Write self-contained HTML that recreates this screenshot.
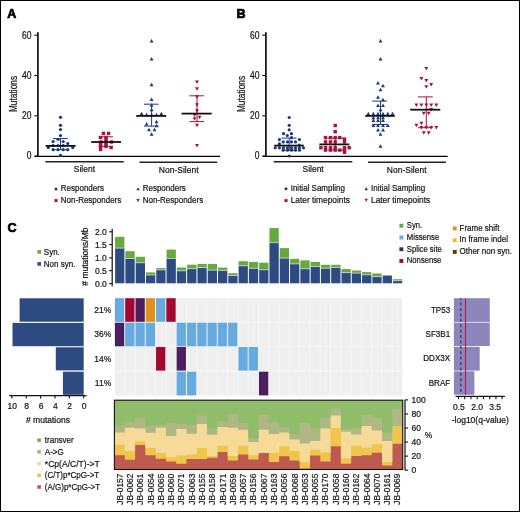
<!DOCTYPE html><html><head><meta charset="utf-8"><style>html,body{margin:0;padding:0;background:#fff;}svg{display:block;will-change:transform;}text{font-family:"Liberation Sans",sans-serif;stroke:#111;stroke-width:.2px;}</style></head><body>
<svg width="520" height="512" viewBox="0 0 520 512">
<rect x="0" y="0" width="520" height="512" fill="#fff"/>
<text x="7.2" y="17.8" font-size="12.50" text-anchor="start" font-weight="bold" fill="#000" style="stroke:#000;stroke-width:.7px">A</text>
<line x1="37.9" y1="32.2" x2="37.9" y2="156.9" stroke="#000" stroke-width="1.6" />
<line x1="34.6" y1="156.3" x2="220" y2="156.3" stroke="#000" stroke-width="1.3" />
<line x1="34.3" y1="156.1" x2="37.9" y2="156.1" stroke="#111111" stroke-width="1.1" />
<text x="31.4" y="159.4" font-size="10.03" text-anchor="end" font-weight="normal" fill="#111111"  textLength="4.73" lengthAdjust="spacingAndGlyphs">0</text>
<line x1="34.3" y1="115.79999999999998" x2="37.9" y2="115.79999999999998" stroke="#111111" stroke-width="1.1" />
<text x="31.4" y="119.09999999999998" font-size="10.03" text-anchor="end" font-weight="normal" fill="#111111"  textLength="9.45" lengthAdjust="spacingAndGlyphs">20</text>
<line x1="34.3" y1="75.49999999999999" x2="37.9" y2="75.49999999999999" stroke="#111111" stroke-width="1.1" />
<text x="31.4" y="78.79999999999998" font-size="10.03" text-anchor="end" font-weight="normal" fill="#111111"  textLength="9.45" lengthAdjust="spacingAndGlyphs">40</text>
<line x1="34.3" y1="35.19999999999999" x2="37.9" y2="35.19999999999999" stroke="#111111" stroke-width="1.1" />
<text x="31.4" y="38.499999999999986" font-size="10.03" text-anchor="end" font-weight="normal" fill="#111111"  textLength="9.45" lengthAdjust="spacingAndGlyphs">60</text>
<text transform="translate(17.0,94) rotate(-90)" font-size="10.6" text-anchor="middle" fill="#111111" textLength="36.2" lengthAdjust="spacingAndGlyphs">Mutations</text>
<text x="236.4" y="17.8" font-size="12.50" text-anchor="start" font-weight="bold" fill="#000" style="stroke:#000;stroke-width:.7px">B</text>
<line x1="265.9" y1="32.2" x2="265.9" y2="156.9" stroke="#000" stroke-width="1.6" />
<line x1="262.59999999999997" y1="156.3" x2="447.7" y2="156.3" stroke="#000" stroke-width="1.3" />
<line x1="262.29999999999995" y1="156.1" x2="265.9" y2="156.1" stroke="#111111" stroke-width="1.1" />
<text x="259.4" y="159.4" font-size="10.03" text-anchor="end" font-weight="normal" fill="#111111"  textLength="4.73" lengthAdjust="spacingAndGlyphs">0</text>
<line x1="262.29999999999995" y1="115.79999999999998" x2="265.9" y2="115.79999999999998" stroke="#111111" stroke-width="1.1" />
<text x="259.4" y="119.09999999999998" font-size="10.03" text-anchor="end" font-weight="normal" fill="#111111"  textLength="9.45" lengthAdjust="spacingAndGlyphs">20</text>
<line x1="262.29999999999995" y1="75.49999999999999" x2="265.9" y2="75.49999999999999" stroke="#111111" stroke-width="1.1" />
<text x="259.4" y="78.79999999999998" font-size="10.03" text-anchor="end" font-weight="normal" fill="#111111"  textLength="9.45" lengthAdjust="spacingAndGlyphs">40</text>
<line x1="262.29999999999995" y1="35.19999999999999" x2="265.9" y2="35.19999999999999" stroke="#111111" stroke-width="1.1" />
<text x="259.4" y="38.499999999999986" font-size="10.03" text-anchor="end" font-weight="normal" fill="#111111"  textLength="9.45" lengthAdjust="spacingAndGlyphs">60</text>
<text transform="translate(244.9,94) rotate(-90)" font-size="10.6" text-anchor="middle" fill="#111111" textLength="36.2" lengthAdjust="spacingAndGlyphs">Mutations</text>
<line x1="45.4" y1="161.7" x2="123.8" y2="161.7" stroke="#222" stroke-width="1.5" />
<line x1="139.5" y1="162.2" x2="217.2" y2="162.2" stroke="#222" stroke-width="1.5" />
<text x="84.4" y="172.3" font-size="9.18" text-anchor="middle" font-weight="normal" fill="#111111"  textLength="21.26" lengthAdjust="spacingAndGlyphs">Silent</text>
<text x="178.7" y="172.8" font-size="9.18" text-anchor="middle" font-weight="normal" fill="#111111"  textLength="39.69" lengthAdjust="spacingAndGlyphs">Non-Silent</text>
<line x1="273.8" y1="161.7" x2="352.3" y2="161.7" stroke="#222" stroke-width="1.5" />
<line x1="368" y1="162.2" x2="445.9" y2="162.2" stroke="#222" stroke-width="1.5" />
<text x="313.1" y="172.3" font-size="9.18" text-anchor="middle" font-weight="normal" fill="#111111"  textLength="21.26" lengthAdjust="spacingAndGlyphs">Silent</text>
<text x="406.7" y="172.8" font-size="9.18" text-anchor="middle" font-weight="normal" fill="#111111"  textLength="39.69" lengthAdjust="spacingAndGlyphs">Non-Silent</text>
<line x1="53" y1="138.6" x2="67.8" y2="138.6" stroke="#1a397b" stroke-width="1.0" />
<line x1="53" y1="149.7" x2="67.8" y2="149.7" stroke="#1a397b" stroke-width="1.0" />
<line x1="60.5" y1="138.6" x2="60.5" y2="149.7" stroke="#1a397b" stroke-width="1.0" />
<circle cx="60.5" cy="117.3" r="1.6" fill="#1a397b"/>
<circle cx="60.5" cy="125.3" r="1.6" fill="#1a397b"/>
<circle cx="60.5" cy="129.5" r="1.6" fill="#1a397b"/>
<circle cx="60.5" cy="135.6" r="1.6" fill="#1a397b"/>
<circle cx="58" cy="139.3" r="1.6" fill="#1a397b"/>
<circle cx="53.1" cy="141.5" r="1.6" fill="#1a397b"/>
<circle cx="63.2" cy="141.5" r="1.6" fill="#1a397b"/>
<circle cx="67.8" cy="143.5" r="1.6" fill="#1a397b"/>
<circle cx="53.1" cy="145.6" r="1.6" fill="#1a397b"/>
<circle cx="58" cy="145.6" r="1.6" fill="#1a397b"/>
<circle cx="63.2" cy="145.6" r="1.6" fill="#1a397b"/>
<circle cx="48.3" cy="147.6" r="1.6" fill="#1a397b"/>
<circle cx="72.7" cy="147.6" r="1.6" fill="#1a397b"/>
<circle cx="53.1" cy="149.7" r="1.6" fill="#1a397b"/>
<circle cx="58" cy="149.7" r="1.6" fill="#1a397b"/>
<circle cx="63.2" cy="149.7" r="1.6" fill="#1a397b"/>
<circle cx="67.8" cy="149.7" r="1.6" fill="#1a397b"/>
<circle cx="60.5" cy="155.4" r="1.6" fill="#1a397b"/>
<line x1="45.6" y1="145.9" x2="75.6" y2="145.9" stroke="#111111" stroke-width="1.8" />
<line x1="98.7" y1="136.8" x2="113.1" y2="136.8" stroke="#a8123a" stroke-width="1.0" />
<line x1="98.7" y1="146.4" x2="113.1" y2="146.4" stroke="#a8123a" stroke-width="1.0" />
<line x1="106" y1="136.8" x2="106" y2="146.4" stroke="#a8123a" stroke-width="1.0" />
<rect x="101.70" y="131.70" width="3.4" height="3.4" fill="#a8123a"/>
<rect x="106.80" y="131.70" width="3.4" height="3.4" fill="#a8123a"/>
<rect x="98.80" y="135.80" width="3.4" height="3.4" fill="#a8123a"/>
<rect x="104.30" y="135.80" width="3.4" height="3.4" fill="#a8123a"/>
<rect x="104.30" y="138.10" width="3.4" height="3.4" fill="#a8123a"/>
<rect x="99.30" y="140.30" width="3.4" height="3.4" fill="#a8123a"/>
<rect x="104.30" y="140.30" width="3.4" height="3.4" fill="#a8123a"/>
<rect x="109.80" y="140.30" width="3.4" height="3.4" fill="#a8123a"/>
<rect x="98.90" y="143.10" width="3.4" height="3.4" fill="#a8123a"/>
<rect x="104.30" y="143.10" width="3.4" height="3.4" fill="#a8123a"/>
<rect x="98.90" y="144.70" width="3.4" height="3.4" fill="#a8123a"/>
<rect x="104.30" y="144.70" width="3.4" height="3.4" fill="#a8123a"/>
<rect x="109.40" y="145.80" width="3.4" height="3.4" fill="#a8123a"/>
<rect x="98.90" y="147.80" width="3.4" height="3.4" fill="#a8123a"/>
<line x1="91.2" y1="142" x2="121" y2="142" stroke="#111111" stroke-width="1.8" />
<line x1="144" y1="104.2" x2="158.7" y2="104.2" stroke="#1a397b" stroke-width="1.0" />
<line x1="144" y1="126.1" x2="158.7" y2="126.1" stroke="#1a397b" stroke-width="1.0" />
<line x1="151.6" y1="104.2" x2="151.6" y2="126.1" stroke="#1a397b" stroke-width="1.0" />
<path d="M149.65 42.46L153.55 42.46L151.60 38.95Z" fill="#1a397b"/>
<path d="M149.65 60.46L153.55 60.46L151.60 56.95Z" fill="#1a397b"/>
<path d="M149.65 86.35L153.55 86.35L151.60 82.84Z" fill="#1a397b"/>
<path d="M149.65 101.05L153.55 101.05L151.60 97.55Z" fill="#1a397b"/>
<path d="M149.65 106.85L153.55 106.85L151.60 103.34Z" fill="#1a397b"/>
<path d="M149.65 111.25L153.55 111.25L151.60 107.75Z" fill="#1a397b"/>
<path d="M139.65 115.16L143.55 115.16L141.60 111.65Z" fill="#1a397b"/>
<path d="M159.45 115.16L163.35 115.16L161.40 111.65Z" fill="#1a397b"/>
<path d="M144.65 116.16L148.55 116.16L146.60 112.65Z" fill="#1a397b"/>
<path d="M149.65 116.16L153.55 116.16L151.60 112.65Z" fill="#1a397b"/>
<path d="M154.55 116.16L158.45 116.16L156.50 112.65Z" fill="#1a397b"/>
<path d="M154.55 123.16L158.45 123.16L156.50 119.65Z" fill="#1a397b"/>
<path d="M144.65 125.45L148.55 125.45L146.60 121.95Z" fill="#1a397b"/>
<path d="M154.55 127.35L158.45 127.35L156.50 123.84Z" fill="#1a397b"/>
<path d="M147.05 131.25L150.95 131.25L149.00 127.75Z" fill="#1a397b"/>
<path d="M152.55 131.25L156.45 131.25L154.50 127.75Z" fill="#1a397b"/>
<path d="M149.65 135.75L153.55 135.75L151.60 132.25Z" fill="#1a397b"/>
<line x1="136.2" y1="115.9" x2="166.2" y2="115.9" stroke="#111111" stroke-width="1.8" />
<line x1="189.4" y1="95.8" x2="204" y2="95.8" stroke="#a8123a" stroke-width="1.0" />
<line x1="189.4" y1="121.6" x2="204" y2="121.6" stroke="#a8123a" stroke-width="1.0" />
<line x1="197" y1="95.8" x2="197" y2="121.6" stroke="#a8123a" stroke-width="1.0" />
<path d="M195.05 80.55L198.95 80.55L197.00 84.05Z" fill="#a8123a"/>
<path d="M195.05 87.15L198.95 87.15L197.00 90.66Z" fill="#a8123a"/>
<path d="M195.05 95.25L198.95 95.25L197.00 98.75Z" fill="#a8123a"/>
<path d="M195.05 103.25L198.95 103.25L197.00 106.75Z" fill="#a8123a"/>
<path d="M195.05 109.25L198.95 109.25L197.00 112.75Z" fill="#a8123a"/>
<path d="M192.65 113.55L196.55 113.55L194.60 117.05Z" fill="#a8123a"/>
<path d="M197.55 115.75L201.45 115.75L199.50 119.25Z" fill="#a8123a"/>
<path d="M192.65 117.25L196.55 117.25L194.60 120.75Z" fill="#a8123a"/>
<path d="M195.05 123.84L198.95 123.84L197.00 127.35Z" fill="#a8123a"/>
<path d="M195.05 144.05L198.95 144.05L197.00 147.56Z" fill="#a8123a"/>
<line x1="181.6" y1="113.6" x2="211.7" y2="113.6" stroke="#111111" stroke-width="1.8" />
<line x1="281.5" y1="138.1" x2="296.5" y2="138.1" stroke="#1a397b" stroke-width="1.0" />
<line x1="281.5" y1="150.2" x2="296.5" y2="150.2" stroke="#1a397b" stroke-width="1.0" />
<line x1="289.2" y1="138.1" x2="289.2" y2="150.2" stroke="#1a397b" stroke-width="1.0" />
<circle cx="289.2" cy="117.5" r="1.6" fill="#1a397b"/>
<circle cx="289.2" cy="125.3" r="1.6" fill="#1a397b"/>
<circle cx="289.2" cy="129.8" r="1.6" fill="#1a397b"/>
<circle cx="283.5" cy="133.7" r="1.6" fill="#1a397b"/>
<circle cx="291.4" cy="133.7" r="1.6" fill="#1a397b"/>
<circle cx="287.3" cy="135.5" r="1.6" fill="#1a397b"/>
<circle cx="291.5" cy="137.7" r="1.6" fill="#1a397b"/>
<circle cx="279.4" cy="139.6" r="1.6" fill="#1a397b"/>
<circle cx="299.4" cy="139.6" r="1.6" fill="#1a397b"/>
<circle cx="283.2" cy="141.9" r="1.6" fill="#1a397b"/>
<circle cx="287.5" cy="141.9" r="1.6" fill="#1a397b"/>
<circle cx="291.5" cy="141.9" r="1.6" fill="#1a397b"/>
<circle cx="295.5" cy="141.9" r="1.6" fill="#1a397b"/>
<circle cx="279.4" cy="143.8" r="1.6" fill="#1a397b"/>
<circle cx="299.3" cy="145" r="1.6" fill="#1a397b"/>
<circle cx="275.2" cy="147.8" r="1.6" fill="#1a397b"/>
<circle cx="279.4" cy="147.8" r="1.6" fill="#1a397b"/>
<circle cx="283.5" cy="147.8" r="1.6" fill="#1a397b"/>
<circle cx="287.5" cy="147.8" r="1.6" fill="#1a397b"/>
<circle cx="291.5" cy="147.8" r="1.6" fill="#1a397b"/>
<circle cx="295.5" cy="147.8" r="1.6" fill="#1a397b"/>
<circle cx="299.4" cy="147.8" r="1.6" fill="#1a397b"/>
<circle cx="303.5" cy="147.8" r="1.6" fill="#1a397b"/>
<circle cx="283.2" cy="150.2" r="1.6" fill="#1a397b"/>
<circle cx="287.5" cy="150.2" r="1.6" fill="#1a397b"/>
<circle cx="291.5" cy="150.2" r="1.6" fill="#1a397b"/>
<circle cx="295.5" cy="150.2" r="1.6" fill="#1a397b"/>
<circle cx="299.4" cy="150.2" r="1.6" fill="#1a397b"/>
<circle cx="289.2" cy="156" r="1.6" fill="#1a397b"/>
<line x1="274.2" y1="145.6" x2="303.8" y2="145.6" stroke="#111111" stroke-width="1.8" />
<line x1="327.5" y1="138.2" x2="343" y2="138.2" stroke="#a8123a" stroke-width="1.0" />
<line x1="327.5" y1="150.1" x2="343" y2="150.1" stroke="#a8123a" stroke-width="1.0" />
<line x1="335.2" y1="138.2" x2="335.2" y2="150.1" stroke="#a8123a" stroke-width="1.0" />
<rect x="333.50" y="123.80" width="3.4" height="3.4" fill="#a8123a"/>
<rect x="333.50" y="130.00" width="3.4" height="3.4" fill="#a8123a"/>
<rect x="323.80" y="135.90" width="3.4" height="3.4" fill="#a8123a"/>
<rect x="328.80" y="135.90" width="3.4" height="3.4" fill="#a8123a"/>
<rect x="333.50" y="135.90" width="3.4" height="3.4" fill="#a8123a"/>
<rect x="338.10" y="135.90" width="3.4" height="3.4" fill="#a8123a"/>
<rect x="342.80" y="137.40" width="3.4" height="3.4" fill="#a8123a"/>
<rect x="323.80" y="140.20" width="3.4" height="3.4" fill="#a8123a"/>
<rect x="328.80" y="140.20" width="3.4" height="3.4" fill="#a8123a"/>
<rect x="333.50" y="140.20" width="3.4" height="3.4" fill="#a8123a"/>
<rect x="342.80" y="140.20" width="3.4" height="3.4" fill="#a8123a"/>
<rect x="319.20" y="146.00" width="3.4" height="3.4" fill="#a8123a"/>
<rect x="323.80" y="146.00" width="3.4" height="3.4" fill="#a8123a"/>
<rect x="328.80" y="146.00" width="3.4" height="3.4" fill="#a8123a"/>
<rect x="333.50" y="146.00" width="3.4" height="3.4" fill="#a8123a"/>
<rect x="342.80" y="146.00" width="3.4" height="3.4" fill="#a8123a"/>
<rect x="347.50" y="146.00" width="3.4" height="3.4" fill="#a8123a"/>
<rect x="323.80" y="148.40" width="3.4" height="3.4" fill="#a8123a"/>
<rect x="328.80" y="148.40" width="3.4" height="3.4" fill="#a8123a"/>
<rect x="333.50" y="148.40" width="3.4" height="3.4" fill="#a8123a"/>
<rect x="338.10" y="148.40" width="3.4" height="3.4" fill="#a8123a"/>
<rect x="342.80" y="148.40" width="3.4" height="3.4" fill="#a8123a"/>
<rect x="342.80" y="150.60" width="3.4" height="3.4" fill="#a8123a"/>
<line x1="319.3" y1="144.4" x2="349.4" y2="144.4" stroke="#111111" stroke-width="1.8" />
<line x1="372.2" y1="101.1" x2="387" y2="101.1" stroke="#1a397b" stroke-width="1.0" />
<line x1="372.2" y1="124.5" x2="387" y2="124.5" stroke="#1a397b" stroke-width="1.0" />
<line x1="380.5" y1="101.1" x2="380.5" y2="124.5" stroke="#1a397b" stroke-width="1.0" />
<path d="M378.55 42.55L382.45 42.55L380.50 39.04Z" fill="#1a397b"/>
<path d="M378.55 60.55L382.45 60.55L380.50 57.04Z" fill="#1a397b"/>
<path d="M376.05 84.55L379.95 84.55L378.00 81.05Z" fill="#1a397b"/>
<path d="M381.05 87.25L384.95 87.25L383.00 83.75Z" fill="#1a397b"/>
<path d="M378.55 91.16L382.45 91.16L380.50 87.65Z" fill="#1a397b"/>
<path d="M376.05 98.66L379.95 98.66L378.00 95.15Z" fill="#1a397b"/>
<path d="M381.05 101.25L384.95 101.25L383.00 97.75Z" fill="#1a397b"/>
<path d="M376.05 107.05L379.95 107.05L378.00 103.55Z" fill="#1a397b"/>
<path d="M381.05 107.05L384.95 107.05L383.00 103.55Z" fill="#1a397b"/>
<path d="M378.55 111.16L382.45 111.16L380.50 107.65Z" fill="#1a397b"/>
<path d="M366.35 115.25L370.25 115.25L368.30 111.75Z" fill="#1a397b"/>
<path d="M371.45 115.25L375.35 115.25L373.40 111.75Z" fill="#1a397b"/>
<path d="M376.05 115.25L379.95 115.25L378.00 111.75Z" fill="#1a397b"/>
<path d="M381.05 115.25L384.95 115.25L383.00 111.75Z" fill="#1a397b"/>
<path d="M385.85 115.25L389.75 115.25L387.80 111.75Z" fill="#1a397b"/>
<path d="M390.55 115.25L394.45 115.25L392.50 111.75Z" fill="#1a397b"/>
<path d="M371.45 119.25L375.35 119.25L373.40 115.75Z" fill="#1a397b"/>
<path d="M376.05 119.25L379.95 119.25L378.00 115.75Z" fill="#1a397b"/>
<path d="M381.05 119.25L384.95 119.25L383.00 115.75Z" fill="#1a397b"/>
<path d="M371.45 122.05L375.35 122.05L373.40 118.55Z" fill="#1a397b"/>
<path d="M376.05 122.05L379.95 122.05L378.00 118.55Z" fill="#1a397b"/>
<path d="M381.05 122.05L384.95 122.05L383.00 118.55Z" fill="#1a397b"/>
<path d="M371.45 127.05L375.35 127.05L373.40 123.55Z" fill="#1a397b"/>
<path d="M376.05 127.05L379.95 127.05L378.00 123.55Z" fill="#1a397b"/>
<path d="M381.05 127.05L384.95 127.05L383.00 123.55Z" fill="#1a397b"/>
<path d="M385.85 127.05L389.75 127.05L387.80 123.55Z" fill="#1a397b"/>
<path d="M376.05 131.45L379.95 131.45L378.00 127.94Z" fill="#1a397b"/>
<path d="M381.05 131.45L384.95 131.45L383.00 127.94Z" fill="#1a397b"/>
<path d="M378.55 135.66L382.45 135.66L380.50 132.15Z" fill="#1a397b"/>
<path d="M378.55 147.85L382.45 147.85L380.50 144.34Z" fill="#1a397b"/>
<line x1="365.2" y1="115.9" x2="394.8" y2="115.9" stroke="#111111" stroke-width="1.8" />
<line x1="418" y1="96.9" x2="432.8" y2="96.9" stroke="#a8123a" stroke-width="1.0" />
<line x1="418" y1="127.7" x2="432.8" y2="127.7" stroke="#a8123a" stroke-width="1.0" />
<line x1="426.3" y1="96.9" x2="426.3" y2="127.7" stroke="#a8123a" stroke-width="1.0" />
<path d="M424.35 67.05L428.25 67.05L426.30 70.55Z" fill="#a8123a"/>
<path d="M419.45 77.05L423.35 77.05L421.40 80.55Z" fill="#a8123a"/>
<path d="M424.35 79.05L428.25 79.05L426.30 82.55Z" fill="#a8123a"/>
<path d="M429.25 82.95L433.15 82.95L431.20 86.45Z" fill="#a8123a"/>
<path d="M424.35 85.25L428.25 85.25L426.30 88.75Z" fill="#a8123a"/>
<path d="M414.45 103.55L418.35 103.55L416.40 107.05Z" fill="#a8123a"/>
<path d="M419.45 103.55L423.35 103.55L421.40 107.05Z" fill="#a8123a"/>
<path d="M424.35 103.55L428.25 103.55L426.30 107.05Z" fill="#a8123a"/>
<path d="M429.25 103.55L433.15 103.55L431.20 107.05Z" fill="#a8123a"/>
<path d="M434.35 103.55L438.25 103.55L436.30 107.05Z" fill="#a8123a"/>
<path d="M429.25 107.95L433.15 107.95L431.20 111.45Z" fill="#a8123a"/>
<path d="M421.85 111.84L425.75 111.84L423.80 115.35Z" fill="#a8123a"/>
<path d="M426.75 111.84L430.65 111.84L428.70 115.35Z" fill="#a8123a"/>
<path d="M419.45 121.65L423.35 121.65L421.40 125.16Z" fill="#a8123a"/>
<path d="M414.45 123.84L418.35 123.84L416.40 127.35Z" fill="#a8123a"/>
<path d="M419.45 125.95L423.35 125.95L421.40 129.46Z" fill="#a8123a"/>
<path d="M424.35 125.95L428.25 125.95L426.30 129.46Z" fill="#a8123a"/>
<path d="M429.25 125.95L433.15 125.95L431.20 129.46Z" fill="#a8123a"/>
<path d="M434.35 125.95L438.25 125.95L436.30 129.46Z" fill="#a8123a"/>
<path d="M421.85 131.34L425.75 131.34L423.80 134.85Z" fill="#a8123a"/>
<path d="M426.75 131.34L430.65 131.34L428.70 134.85Z" fill="#a8123a"/>
<line x1="410.2" y1="109.7" x2="440.3" y2="109.7" stroke="#111111" stroke-width="1.8" />
<circle cx="56" cy="189" r="1.5" fill="#1a397b"/>
<text x="60.8" y="191.3" font-size="9.44" text-anchor="start" font-weight="normal" fill="#111111"  textLength="43.14" lengthAdjust="spacingAndGlyphs">Responders</text>
<rect x="54.50" y="199.10" width="3.0" height="3.0" fill="#a8123a"/>
<text x="60.8" y="202.9" font-size="9.44" text-anchor="start" font-weight="normal" fill="#111111"  textLength="60.48" lengthAdjust="spacingAndGlyphs">Non-Responders</text>
<path d="M136.30 190.33L139.70 190.33L138.00 187.27Z" fill="#1a397b"/>
<text x="142.7" y="191.3" font-size="9.44" text-anchor="start" font-weight="normal" fill="#111111"  textLength="43.14" lengthAdjust="spacingAndGlyphs">Responders</text>
<path d="M136.30 199.07L139.70 199.07L138.00 202.13Z" fill="#a8123a"/>
<text x="142.7" y="202.9" font-size="9.44" text-anchor="start" font-weight="normal" fill="#111111"  textLength="60.48" lengthAdjust="spacingAndGlyphs">Non-Responders</text>
<circle cx="286" cy="188.8" r="1.5" fill="#1a397b"/>
<text x="290.7" y="191.2" font-size="9.44" text-anchor="start" font-weight="normal" fill="#111111"  textLength="54.25" lengthAdjust="spacingAndGlyphs">Initial Sampling</text>
<rect x="284.50" y="199.10" width="3.0" height="3.0" fill="#a8123a"/>
<text x="290.7" y="202.9" font-size="9.44" text-anchor="start" font-weight="normal" fill="#111111"  textLength="59.20" lengthAdjust="spacingAndGlyphs">Later timepoints</text>
<path d="M364.50 190.13L367.90 190.13L366.20 187.07Z" fill="#1a397b"/>
<text x="371" y="191.2" font-size="9.44" text-anchor="start" font-weight="normal" fill="#111111"  textLength="54.25" lengthAdjust="spacingAndGlyphs">Initial Sampling</text>
<path d="M364.50 198.77L367.90 198.77L366.20 201.83Z" fill="#a8123a"/>
<text x="371" y="202.9" font-size="9.44" text-anchor="start" font-weight="normal" fill="#111111"  textLength="59.20" lengthAdjust="spacingAndGlyphs">Later timepoints</text>
<text x="7.4" y="231.7" font-size="12.50" text-anchor="start" font-weight="bold" fill="#000" style="stroke:#000;stroke-width:.7px">C</text>
<line x1="112.2" y1="228.8" x2="112.2" y2="286.3" stroke="#111111" stroke-width="1.2" />
<line x1="109.2" y1="231.8" x2="112.2" y2="231.8" stroke="#111111" stroke-width="1.1" />
<text x="106.8" y="234.8" font-size="8.50" text-anchor="end" font-weight="normal" fill="#111111" >2.0</text>
<line x1="109.2" y1="244.6" x2="112.2" y2="244.6" stroke="#111111" stroke-width="1.1" />
<text x="106.8" y="247.6" font-size="8.50" text-anchor="end" font-weight="normal" fill="#111111" >1.5</text>
<line x1="109.2" y1="257.8" x2="112.2" y2="257.8" stroke="#111111" stroke-width="1.1" />
<text x="106.8" y="260.8" font-size="8.50" text-anchor="end" font-weight="normal" fill="#111111" >1.0</text>
<line x1="109.2" y1="270.6" x2="112.2" y2="270.6" stroke="#111111" stroke-width="1.1" />
<text x="106.8" y="273.6" font-size="8.50" text-anchor="end" font-weight="normal" fill="#111111" >0.5</text>
<line x1="109.2" y1="283.6" x2="112.2" y2="283.6" stroke="#111111" stroke-width="1.1" />
<text x="106.8" y="286.6" font-size="8.50" text-anchor="end" font-weight="normal" fill="#111111" >0.0</text>
<text transform="translate(88.2,256.6) rotate(-90)" font-size="8.5" text-anchor="middle" fill="#111111" ># mutations/Mb</text>
<rect x="37.40" y="250.10" width="3.60" height="3.60" fill="#67a83f" />
<text x="43.8" y="254.7" font-size="9.20" text-anchor="start" font-weight="normal" fill="#111111"  textLength="16.01" lengthAdjust="spacingAndGlyphs">Syn.</text>
<rect x="37.40" y="262.10" width="3.60" height="3.60" fill="#2e4b81" />
<text x="43.8" y="266.7" font-size="9.20" text-anchor="start" font-weight="normal" fill="#111111"  textLength="31.57" lengthAdjust="spacingAndGlyphs">Non syn.</text>
<rect x="115.10" y="236.80" width="9.30" height="11.30" fill="#67a83f" />
<rect x="115.10" y="248.10" width="9.30" height="35.20" fill="#2e4b81" />
<line x1="115.1" y1="248.1" x2="124.39999999999999" y2="248.1" stroke="#dfe6ee" stroke-width="0.7" />
<rect x="125.39" y="251.20" width="9.30" height="7.30" fill="#67a83f" />
<rect x="125.39" y="258.50" width="9.30" height="24.80" fill="#2e4b81" />
<line x1="125.38999999999999" y1="258.5" x2="134.69" y2="258.5" stroke="#dfe6ee" stroke-width="0.7" />
<rect x="135.68" y="256.80" width="9.30" height="5.90" fill="#67a83f" />
<rect x="135.68" y="262.70" width="9.30" height="20.60" fill="#2e4b81" />
<line x1="135.68" y1="262.7" x2="144.98000000000002" y2="262.7" stroke="#dfe6ee" stroke-width="0.7" />
<rect x="145.97" y="272.40" width="9.30" height="2.60" fill="#67a83f" />
<rect x="145.97" y="275.00" width="9.30" height="8.30" fill="#2e4b81" />
<line x1="145.97" y1="275.0" x2="155.27" y2="275.0" stroke="#dfe6ee" stroke-width="0.7" />
<rect x="156.26" y="268.10" width="9.30" height="1.80" fill="#67a83f" />
<rect x="156.26" y="269.90" width="9.30" height="13.40" fill="#2e4b81" />
<line x1="156.26" y1="269.9" x2="165.56" y2="269.9" stroke="#dfe6ee" stroke-width="0.7" />
<rect x="166.55" y="249.60" width="9.30" height="8.80" fill="#67a83f" />
<rect x="166.55" y="258.40" width="9.30" height="24.90" fill="#2e4b81" />
<line x1="166.54999999999998" y1="258.4" x2="175.85" y2="258.4" stroke="#dfe6ee" stroke-width="0.7" />
<rect x="176.84" y="267.50" width="9.30" height="3.30" fill="#67a83f" />
<rect x="176.84" y="270.80" width="9.30" height="12.50" fill="#2e4b81" />
<line x1="176.83999999999997" y1="270.8" x2="186.14" y2="270.8" stroke="#dfe6ee" stroke-width="0.7" />
<rect x="187.13" y="264.70" width="9.30" height="4.00" fill="#67a83f" />
<rect x="187.13" y="268.70" width="9.30" height="14.60" fill="#2e4b81" />
<line x1="187.13" y1="268.7" x2="196.43" y2="268.7" stroke="#dfe6ee" stroke-width="0.7" />
<rect x="197.42" y="263.90" width="9.30" height="3.70" fill="#67a83f" />
<rect x="197.42" y="267.60" width="9.30" height="15.70" fill="#2e4b81" />
<line x1="197.42" y1="267.6" x2="206.72" y2="267.6" stroke="#dfe6ee" stroke-width="0.7" />
<rect x="207.71" y="263.90" width="9.30" height="6.20" fill="#67a83f" />
<rect x="207.71" y="270.10" width="9.30" height="13.20" fill="#2e4b81" />
<line x1="207.70999999999998" y1="270.1" x2="217.01" y2="270.1" stroke="#dfe6ee" stroke-width="0.7" />
<rect x="218.00" y="267.60" width="9.30" height="2.80" fill="#67a83f" />
<rect x="218.00" y="270.40" width="9.30" height="12.90" fill="#2e4b81" />
<line x1="218.0" y1="270.4" x2="227.3" y2="270.4" stroke="#dfe6ee" stroke-width="0.7" />
<rect x="228.29" y="273.20" width="9.30" height="2.30" fill="#67a83f" />
<rect x="228.29" y="275.50" width="9.30" height="7.80" fill="#2e4b81" />
<line x1="228.29" y1="275.5" x2="237.59" y2="275.5" stroke="#dfe6ee" stroke-width="0.7" />
<rect x="238.58" y="261.20" width="9.30" height="4.60" fill="#67a83f" />
<rect x="238.58" y="265.80" width="9.30" height="17.50" fill="#2e4b81" />
<line x1="238.57999999999998" y1="265.8" x2="247.88" y2="265.8" stroke="#dfe6ee" stroke-width="0.7" />
<rect x="248.87" y="261.90" width="9.30" height="6.40" fill="#67a83f" />
<rect x="248.87" y="268.30" width="9.30" height="15.00" fill="#2e4b81" />
<line x1="248.86999999999998" y1="268.3" x2="258.16999999999996" y2="268.3" stroke="#dfe6ee" stroke-width="0.7" />
<rect x="259.16" y="262.70" width="9.30" height="7.10" fill="#67a83f" />
<rect x="259.16" y="269.80" width="9.30" height="13.50" fill="#2e4b81" />
<line x1="259.15999999999997" y1="269.8" x2="268.46" y2="269.8" stroke="#dfe6ee" stroke-width="0.7" />
<rect x="269.45" y="228.10" width="9.30" height="14.60" fill="#67a83f" />
<rect x="269.45" y="242.70" width="9.30" height="40.60" fill="#2e4b81" />
<line x1="269.45" y1="242.7" x2="278.75" y2="242.7" stroke="#dfe6ee" stroke-width="0.7" />
<rect x="279.74" y="248.10" width="9.30" height="10.00" fill="#67a83f" />
<rect x="279.74" y="258.10" width="9.30" height="25.20" fill="#2e4b81" />
<line x1="279.74" y1="258.1" x2="289.04" y2="258.1" stroke="#dfe6ee" stroke-width="0.7" />
<rect x="290.03" y="258.80" width="9.30" height="5.10" fill="#67a83f" />
<rect x="290.03" y="263.90" width="9.30" height="19.40" fill="#2e4b81" />
<line x1="290.03" y1="263.9" x2="299.33" y2="263.9" stroke="#dfe6ee" stroke-width="0.7" />
<rect x="300.32" y="260.40" width="9.30" height="8.40" fill="#67a83f" />
<rect x="300.32" y="268.80" width="9.30" height="14.50" fill="#2e4b81" />
<line x1="300.31999999999994" y1="268.8" x2="309.61999999999995" y2="268.8" stroke="#dfe6ee" stroke-width="0.7" />
<rect x="310.61" y="261.90" width="9.30" height="4.60" fill="#67a83f" />
<rect x="310.61" y="266.50" width="9.30" height="16.80" fill="#2e4b81" />
<line x1="310.61" y1="266.5" x2="319.91" y2="266.5" stroke="#dfe6ee" stroke-width="0.7" />
<rect x="320.90" y="264.80" width="9.30" height="3.40" fill="#67a83f" />
<rect x="320.90" y="268.20" width="9.30" height="15.10" fill="#2e4b81" />
<line x1="320.9" y1="268.2" x2="330.2" y2="268.2" stroke="#dfe6ee" stroke-width="0.7" />
<rect x="331.19" y="264.80" width="9.30" height="2.60" fill="#67a83f" />
<rect x="331.19" y="267.40" width="9.30" height="15.90" fill="#2e4b81" />
<line x1="331.18999999999994" y1="267.4" x2="340.48999999999995" y2="267.4" stroke="#dfe6ee" stroke-width="0.7" />
<rect x="341.48" y="269.10" width="9.30" height="3.50" fill="#67a83f" />
<rect x="341.48" y="272.60" width="9.30" height="10.70" fill="#2e4b81" />
<line x1="341.48" y1="272.6" x2="350.78000000000003" y2="272.6" stroke="#dfe6ee" stroke-width="0.7" />
<rect x="351.77" y="270.50" width="9.30" height="2.60" fill="#67a83f" />
<rect x="351.77" y="273.10" width="9.30" height="10.20" fill="#2e4b81" />
<line x1="351.77" y1="273.1" x2="361.07" y2="273.1" stroke="#dfe6ee" stroke-width="0.7" />
<rect x="362.06" y="272.10" width="9.30" height="2.70" fill="#67a83f" />
<rect x="362.06" y="274.80" width="9.30" height="8.50" fill="#2e4b81" />
<line x1="362.05999999999995" y1="274.8" x2="371.35999999999996" y2="274.8" stroke="#dfe6ee" stroke-width="0.7" />
<rect x="372.35" y="273.50" width="9.30" height="3.10" fill="#67a83f" />
<rect x="372.35" y="276.60" width="9.30" height="6.70" fill="#2e4b81" />
<line x1="372.35" y1="276.6" x2="381.65000000000003" y2="276.6" stroke="#dfe6ee" stroke-width="0.7" />
<rect x="382.64" y="275.50" width="9.30" height="7.80" fill="#2e4b81" />
<rect x="392.93" y="279.20" width="9.30" height="1.50" fill="#67a83f" />
<rect x="392.93" y="280.70" width="9.30" height="2.60" fill="#2e4b81" />
<line x1="392.92999999999995" y1="280.7" x2="402.22999999999996" y2="280.7" stroke="#dfe6ee" stroke-width="0.7" />
<rect x="399.40" y="223.80" width="3.90" height="3.90" fill="#67a83f" />
<text x="406.8" y="228.0" font-size="9.20" text-anchor="start" font-weight="normal" fill="#111111"  textLength="15.37" lengthAdjust="spacingAndGlyphs">Syn.</text>
<rect x="399.40" y="235.55" width="3.90" height="3.90" fill="#67aadf" />
<text x="406.8" y="239.75" font-size="9.20" text-anchor="start" font-weight="normal" fill="#111111"  textLength="32.44" lengthAdjust="spacingAndGlyphs">Missense</text>
<rect x="399.40" y="247.30" width="3.90" height="3.90" fill="#4d1f5e" />
<text x="406.8" y="251.5" font-size="9.20" text-anchor="start" font-weight="normal" fill="#111111"  textLength="35.00" lengthAdjust="spacingAndGlyphs">Splice site</text>
<rect x="399.40" y="259.05" width="3.90" height="3.90" fill="#a3072f" />
<text x="406.8" y="263.25" font-size="9.20" text-anchor="start" font-weight="normal" fill="#111111"  textLength="34.58" lengthAdjust="spacingAndGlyphs">Nonsense</text>
<rect x="452.80" y="226.50" width="3.90" height="3.90" fill="#e0901c" />
<text x="459.5" y="230.7" font-size="9.20" text-anchor="start" font-weight="normal" fill="#111111"  textLength="40.01" lengthAdjust="spacingAndGlyphs">Frame shift</text>
<rect x="452.80" y="238.25" width="3.90" height="3.90" fill="#f2c01e" />
<text x="459.5" y="242.45" font-size="9.20" text-anchor="start" font-weight="normal" fill="#111111"  textLength="48.47" lengthAdjust="spacingAndGlyphs">In frame indel</text>
<rect x="452.80" y="250.00" width="3.90" height="3.90" fill="#5a3a16" />
<text x="459.5" y="254.2" font-size="9.20" text-anchor="start" font-weight="normal" fill="#111111"  textLength="52.47" lengthAdjust="spacingAndGlyphs">Other non syn.</text>
<rect x="114.50" y="298.20" width="288.12" height="97.20" fill="#f6f6f6" />
<rect x="114.90" y="298.20" width="9.30" height="23.60" fill="#67aadf" />
<rect x="125.19" y="298.20" width="9.30" height="23.60" fill="#a3072f" />
<rect x="135.48" y="298.20" width="9.30" height="23.60" fill="#4d1f5e" />
<rect x="145.77" y="298.20" width="9.30" height="23.60" fill="#e0901c" />
<rect x="156.06" y="298.20" width="9.30" height="23.60" fill="#67aadf" />
<rect x="166.35" y="298.20" width="9.30" height="23.60" fill="#a3072f" />
<rect x="176.64" y="298.20" width="9.30" height="23.60" fill="#efefef" />
<rect x="186.93" y="298.20" width="9.30" height="23.60" fill="#efefef" />
<rect x="197.22" y="298.20" width="9.30" height="23.60" fill="#efefef" />
<rect x="207.51" y="298.20" width="9.30" height="23.60" fill="#efefef" />
<rect x="217.80" y="298.20" width="9.30" height="23.60" fill="#efefef" />
<rect x="228.09" y="298.20" width="9.30" height="23.60" fill="#efefef" />
<rect x="238.38" y="298.20" width="9.30" height="23.60" fill="#efefef" />
<rect x="248.67" y="298.20" width="9.30" height="23.60" fill="#efefef" />
<rect x="258.96" y="298.20" width="9.30" height="23.60" fill="#efefef" />
<rect x="269.25" y="298.20" width="9.30" height="23.60" fill="#efefef" />
<rect x="279.54" y="298.20" width="9.30" height="23.60" fill="#efefef" />
<rect x="289.83" y="298.20" width="9.30" height="23.60" fill="#efefef" />
<rect x="300.12" y="298.20" width="9.30" height="23.60" fill="#efefef" />
<rect x="310.41" y="298.20" width="9.30" height="23.60" fill="#efefef" />
<rect x="320.70" y="298.20" width="9.30" height="23.60" fill="#efefef" />
<rect x="330.99" y="298.20" width="9.30" height="23.60" fill="#efefef" />
<rect x="341.28" y="298.20" width="9.30" height="23.60" fill="#efefef" />
<rect x="351.57" y="298.20" width="9.30" height="23.60" fill="#efefef" />
<rect x="361.86" y="298.20" width="9.30" height="23.60" fill="#efefef" />
<rect x="372.15" y="298.20" width="9.30" height="23.60" fill="#efefef" />
<rect x="382.44" y="298.20" width="9.30" height="23.60" fill="#efefef" />
<rect x="392.73" y="298.20" width="9.30" height="23.60" fill="#efefef" />
<rect x="114.90" y="322.70" width="9.30" height="23.60" fill="#4d1f5e" />
<rect x="125.19" y="322.70" width="9.30" height="23.60" fill="#67aadf" />
<rect x="135.48" y="322.70" width="9.30" height="23.60" fill="#67aadf" />
<rect x="145.77" y="322.70" width="9.30" height="23.60" fill="#67aadf" />
<rect x="156.06" y="322.70" width="9.30" height="23.60" fill="#efefef" />
<rect x="166.35" y="322.70" width="9.30" height="23.60" fill="#efefef" />
<rect x="176.64" y="322.70" width="9.30" height="23.60" fill="#67aadf" />
<rect x="186.93" y="322.70" width="9.30" height="23.60" fill="#67aadf" />
<rect x="197.22" y="322.70" width="9.30" height="23.60" fill="#67aadf" />
<rect x="207.51" y="322.70" width="9.30" height="23.60" fill="#67aadf" />
<rect x="217.80" y="322.70" width="9.30" height="23.60" fill="#67aadf" />
<rect x="228.09" y="322.70" width="9.30" height="23.60" fill="#67aadf" />
<rect x="238.38" y="322.70" width="9.30" height="23.60" fill="#efefef" />
<rect x="248.67" y="322.70" width="9.30" height="23.60" fill="#efefef" />
<rect x="258.96" y="322.70" width="9.30" height="23.60" fill="#efefef" />
<rect x="269.25" y="322.70" width="9.30" height="23.60" fill="#efefef" />
<rect x="279.54" y="322.70" width="9.30" height="23.60" fill="#efefef" />
<rect x="289.83" y="322.70" width="9.30" height="23.60" fill="#efefef" />
<rect x="300.12" y="322.70" width="9.30" height="23.60" fill="#efefef" />
<rect x="310.41" y="322.70" width="9.30" height="23.60" fill="#efefef" />
<rect x="320.70" y="322.70" width="9.30" height="23.60" fill="#efefef" />
<rect x="330.99" y="322.70" width="9.30" height="23.60" fill="#efefef" />
<rect x="341.28" y="322.70" width="9.30" height="23.60" fill="#efefef" />
<rect x="351.57" y="322.70" width="9.30" height="23.60" fill="#efefef" />
<rect x="361.86" y="322.70" width="9.30" height="23.60" fill="#efefef" />
<rect x="372.15" y="322.70" width="9.30" height="23.60" fill="#efefef" />
<rect x="382.44" y="322.70" width="9.30" height="23.60" fill="#efefef" />
<rect x="392.73" y="322.70" width="9.30" height="23.60" fill="#efefef" />
<rect x="114.90" y="347.00" width="9.30" height="23.60" fill="#efefef" />
<rect x="125.19" y="347.00" width="9.30" height="23.60" fill="#efefef" />
<rect x="135.48" y="347.00" width="9.30" height="23.60" fill="#efefef" />
<rect x="145.77" y="347.00" width="9.30" height="23.60" fill="#efefef" />
<rect x="156.06" y="347.00" width="9.30" height="23.60" fill="#a3072f" />
<rect x="166.35" y="347.00" width="9.30" height="23.60" fill="#efefef" />
<rect x="176.64" y="347.00" width="9.30" height="23.60" fill="#4d1f5e" />
<rect x="186.93" y="347.00" width="9.30" height="23.60" fill="#efefef" />
<rect x="197.22" y="347.00" width="9.30" height="23.60" fill="#efefef" />
<rect x="207.51" y="347.00" width="9.30" height="23.60" fill="#efefef" />
<rect x="217.80" y="347.00" width="9.30" height="23.60" fill="#efefef" />
<rect x="228.09" y="347.00" width="9.30" height="23.60" fill="#efefef" />
<rect x="238.38" y="347.00" width="9.30" height="23.60" fill="#67aadf" />
<rect x="248.67" y="347.00" width="9.30" height="23.60" fill="#67aadf" />
<rect x="258.96" y="347.00" width="9.30" height="23.60" fill="#efefef" />
<rect x="269.25" y="347.00" width="9.30" height="23.60" fill="#efefef" />
<rect x="279.54" y="347.00" width="9.30" height="23.60" fill="#efefef" />
<rect x="289.83" y="347.00" width="9.30" height="23.60" fill="#efefef" />
<rect x="300.12" y="347.00" width="9.30" height="23.60" fill="#efefef" />
<rect x="310.41" y="347.00" width="9.30" height="23.60" fill="#efefef" />
<rect x="320.70" y="347.00" width="9.30" height="23.60" fill="#efefef" />
<rect x="330.99" y="347.00" width="9.30" height="23.60" fill="#efefef" />
<rect x="341.28" y="347.00" width="9.30" height="23.60" fill="#efefef" />
<rect x="351.57" y="347.00" width="9.30" height="23.60" fill="#efefef" />
<rect x="361.86" y="347.00" width="9.30" height="23.60" fill="#efefef" />
<rect x="372.15" y="347.00" width="9.30" height="23.60" fill="#efefef" />
<rect x="382.44" y="347.00" width="9.30" height="23.60" fill="#efefef" />
<rect x="392.73" y="347.00" width="9.30" height="23.60" fill="#efefef" />
<rect x="114.90" y="371.70" width="9.30" height="23.70" fill="#efefef" />
<rect x="125.19" y="371.70" width="9.30" height="23.70" fill="#efefef" />
<rect x="135.48" y="371.70" width="9.30" height="23.70" fill="#efefef" />
<rect x="145.77" y="371.70" width="9.30" height="23.70" fill="#efefef" />
<rect x="156.06" y="371.70" width="9.30" height="23.70" fill="#efefef" />
<rect x="166.35" y="371.70" width="9.30" height="23.70" fill="#efefef" />
<rect x="176.64" y="371.70" width="9.30" height="23.70" fill="#67aadf" />
<rect x="186.93" y="371.70" width="9.30" height="23.70" fill="#67aadf" />
<rect x="197.22" y="371.70" width="9.30" height="23.70" fill="#efefef" />
<rect x="207.51" y="371.70" width="9.30" height="23.70" fill="#efefef" />
<rect x="217.80" y="371.70" width="9.30" height="23.70" fill="#efefef" />
<rect x="228.09" y="371.70" width="9.30" height="23.70" fill="#efefef" />
<rect x="238.38" y="371.70" width="9.30" height="23.70" fill="#efefef" />
<rect x="248.67" y="371.70" width="9.30" height="23.70" fill="#efefef" />
<rect x="258.96" y="371.70" width="9.30" height="23.70" fill="#4d1f5e" />
<rect x="269.25" y="371.70" width="9.30" height="23.70" fill="#efefef" />
<rect x="279.54" y="371.70" width="9.30" height="23.70" fill="#efefef" />
<rect x="289.83" y="371.70" width="9.30" height="23.70" fill="#efefef" />
<rect x="300.12" y="371.70" width="9.30" height="23.70" fill="#efefef" />
<rect x="310.41" y="371.70" width="9.30" height="23.70" fill="#efefef" />
<rect x="320.70" y="371.70" width="9.30" height="23.70" fill="#efefef" />
<rect x="330.99" y="371.70" width="9.30" height="23.70" fill="#efefef" />
<rect x="341.28" y="371.70" width="9.30" height="23.70" fill="#efefef" />
<rect x="351.57" y="371.70" width="9.30" height="23.70" fill="#efefef" />
<rect x="361.86" y="371.70" width="9.30" height="23.70" fill="#efefef" />
<rect x="372.15" y="371.70" width="9.30" height="23.70" fill="#efefef" />
<rect x="382.44" y="371.70" width="9.30" height="23.70" fill="#efefef" />
<rect x="392.73" y="371.70" width="9.30" height="23.70" fill="#efefef" />
<text x="111.2" y="312.8" font-size="9.35" text-anchor="end" font-weight="normal" fill="#111111"  textLength="17.01" lengthAdjust="spacingAndGlyphs">21%</text>
<text x="450.2" y="312.6" font-size="9.35" text-anchor="end" font-weight="normal" fill="#111111"  textLength="19.30" lengthAdjust="spacingAndGlyphs">TP53</text>
<text x="111.2" y="337.3" font-size="9.35" text-anchor="end" font-weight="normal" fill="#111111"  textLength="17.01" lengthAdjust="spacingAndGlyphs">36%</text>
<text x="450.2" y="337.1" font-size="9.35" text-anchor="end" font-weight="normal" fill="#111111"  textLength="24.69" lengthAdjust="spacingAndGlyphs">SF3B1</text>
<text x="111.2" y="361.6" font-size="9.35" text-anchor="end" font-weight="normal" fill="#111111"  textLength="17.01" lengthAdjust="spacingAndGlyphs">14%</text>
<text x="450.2" y="361.40000000000003" font-size="9.35" text-anchor="end" font-weight="normal" fill="#111111"  textLength="26.93" lengthAdjust="spacingAndGlyphs">DDX3X</text>
<text x="111.2" y="386.34999999999997" font-size="9.35" text-anchor="end" font-weight="normal" fill="#111111"  textLength="16.38" lengthAdjust="spacingAndGlyphs">11%</text>
<text x="450.2" y="386.15" font-size="9.35" text-anchor="end" font-weight="normal" fill="#111111"  textLength="21.54" lengthAdjust="spacingAndGlyphs">BRAF</text>
<rect x="19.60" y="298.30" width="64.10" height="23.40" fill="#2e4b81" />
<rect x="12.50" y="322.90" width="71.20" height="23.30" fill="#2e4b81" />
<rect x="55.80" y="347.30" width="27.90" height="23.10" fill="#2e4b81" />
<rect x="62.90" y="371.70" width="20.80" height="23.10" fill="#2e4b81" />
<line x1="9.2" y1="395.6" x2="86.5" y2="395.6" stroke="#111111" stroke-width="1.3" />
<line x1="11.9" y1="395.6" x2="11.9" y2="398.6" stroke="#111111" stroke-width="1.1" />
<text x="12.3" y="409.0" font-size="8.50" text-anchor="middle" font-weight="normal" fill="#111111" >10</text>
<line x1="26.259999999999998" y1="395.6" x2="26.259999999999998" y2="398.6" stroke="#111111" stroke-width="1.1" />
<text x="26.659999999999997" y="409.0" font-size="8.50" text-anchor="middle" font-weight="normal" fill="#111111" >8</text>
<line x1="40.62" y1="395.6" x2="40.62" y2="398.6" stroke="#111111" stroke-width="1.1" />
<text x="41.019999999999996" y="409.0" font-size="8.50" text-anchor="middle" font-weight="normal" fill="#111111" >6</text>
<line x1="54.98" y1="395.6" x2="54.98" y2="398.6" stroke="#111111" stroke-width="1.1" />
<text x="55.379999999999995" y="409.0" font-size="8.50" text-anchor="middle" font-weight="normal" fill="#111111" >4</text>
<line x1="69.34" y1="395.6" x2="69.34" y2="398.6" stroke="#111111" stroke-width="1.1" />
<text x="69.74000000000001" y="409.0" font-size="8.50" text-anchor="middle" font-weight="normal" fill="#111111" >2</text>
<line x1="83.7" y1="395.6" x2="83.7" y2="398.6" stroke="#111111" stroke-width="1.1" />
<text x="84.10000000000001" y="409.0" font-size="8.50" text-anchor="middle" font-weight="normal" fill="#111111" >0</text>
<text x="48.0" y="423.0" font-size="8.50" text-anchor="middle" font-weight="normal" fill="#111111" ># mutations</text>
<rect x="453.90" y="298.20" width="35.90" height="23.70" fill="#8c86bd" />
<rect x="453.90" y="322.60" width="35.90" height="23.40" fill="#8c86bd" />
<rect x="453.90" y="346.80" width="25.80" height="23.80" fill="#8c86bd" />
<rect x="453.90" y="371.30" width="20.50" height="23.40" fill="#8c86bd" />
<line x1="460.8" y1="298.2" x2="460.8" y2="394.7" stroke="#53296f" stroke-width="1.3" stroke-dasharray="3,2.4" stroke-dashoffset="1.0"/>
<line x1="465.5" y1="298.2" x2="465.5" y2="394.7" stroke="#b0184a" stroke-width="1.1" />
<line x1="455.5" y1="396.4" x2="504.9" y2="396.4" stroke="#111111" stroke-width="1.3" />
<line x1="458.5" y1="396.4" x2="458.5" y2="399.2" stroke="#111111" stroke-width="1.1" />
<line x1="464.74" y1="396.4" x2="464.74" y2="399.2" stroke="#111111" stroke-width="1.1" />
<line x1="470.98" y1="396.4" x2="470.98" y2="399.2" stroke="#111111" stroke-width="1.1" />
<line x1="477.22" y1="396.4" x2="477.22" y2="399.2" stroke="#111111" stroke-width="1.1" />
<line x1="483.46" y1="396.4" x2="483.46" y2="399.2" stroke="#111111" stroke-width="1.1" />
<line x1="489.7" y1="396.4" x2="489.7" y2="399.2" stroke="#111111" stroke-width="1.1" />
<line x1="495.94" y1="396.4" x2="495.94" y2="399.2" stroke="#111111" stroke-width="1.1" />
<line x1="502.18" y1="396.4" x2="502.18" y2="399.2" stroke="#111111" stroke-width="1.1" />
<text x="458.8" y="409.6" font-size="8.50" text-anchor="middle" font-weight="normal" fill="#111111" >0.5</text>
<text x="477.1" y="409.6" font-size="8.50" text-anchor="middle" font-weight="normal" fill="#111111" >2.0</text>
<text x="495.2" y="409.6" font-size="8.50" text-anchor="middle" font-weight="normal" fill="#111111" >3.5</text>
<text x="480.3" y="423.3" font-size="8.50" text-anchor="middle" font-weight="normal" fill="#111111" >-log10(q-value)</text>
<rect x="114.50" y="400.20" width="288.12" height="69.30" fill="#bf5a50" />
<path d="M114.50 400.20L402.62 400.20L402.62 443.80L392.33 443.80L392.33 465.60L382.04 465.60L382.04 452.80L371.75 452.80L371.75 455.20L361.46 455.20L361.46 455.90L351.17 455.90L351.17 463.80L340.88 463.80L340.88 446.30L330.59 446.30L330.59 461.40L320.30 461.40L320.30 455.60L310.01 455.60L310.01 468.40L299.72 468.40L299.72 460.60L289.43 460.60L289.43 456.30L279.14 456.30L279.14 461.90L268.85 461.90L268.85 453.10L258.56 453.10L258.56 459.40L248.27 459.40L248.27 454.40L237.98 454.40L237.98 460.60L227.69 460.60L227.69 452.00L217.40 452.00L217.40 457.80L207.11 457.80L207.11 459.10L196.82 459.10L196.82 459.10L186.53 459.10L186.53 463.80L176.24 463.80L176.24 461.40L165.95 461.40L165.95 458.80L155.66 458.80L155.66 455.20L145.37 455.20L145.37 445.00L135.08 445.00L135.08 459.80L124.79 459.80L124.79 455.20L114.50 455.20Z" fill="#efc54b"/>
<path d="M114.50 400.20L402.62 400.20L402.62 426.30L392.33 426.30L392.33 461.90L382.04 461.90L382.04 444.20L371.75 444.20L371.75 447.80L361.46 447.80L361.46 445.80L351.17 445.80L351.17 458.30L340.88 458.30L340.88 428.10L330.59 428.10L330.59 452.50L320.30 452.50L320.30 449.70L310.01 449.70L310.01 462.20L299.72 462.20L299.72 450.90L289.43 450.90L289.43 446.60L279.14 446.60L279.14 452.80L268.85 452.80L268.85 453.10L258.56 453.10L258.56 455.20L248.27 455.20L248.27 445.80L237.98 445.80L237.98 455.90L227.69 455.90L227.69 445.80L217.40 445.80L217.40 455.90L207.11 455.90L207.11 448.10L196.82 448.10L196.82 454.40L186.53 454.40L186.53 455.60L176.24 455.60L176.24 457.30L165.95 457.30L165.95 453.10L155.66 453.10L155.66 448.10L145.37 448.10L145.37 441.60L135.08 441.60L135.08 450.90L124.79 450.90L124.79 444.70L114.50 444.70Z" fill="#f6da97"/>
<path d="M114.50 400.20L402.62 400.20L402.62 426.30L392.33 426.30L392.33 441.10L382.04 441.10L382.04 430.60L371.75 430.60L371.75 425.90L361.46 425.90L361.46 434.60L351.17 434.60L351.17 431.70L340.88 431.70L340.88 415.60L330.59 415.60L330.59 428.60L320.30 428.60L320.30 441.10L310.01 441.10L310.01 443.40L299.72 443.40L299.72 439.50L289.43 439.50L289.43 432.50L279.14 432.50L279.14 434.10L268.85 434.10L268.85 429.70L258.56 429.70L258.56 441.90L248.27 441.90L248.27 429.70L237.98 429.70L237.98 427.80L227.69 427.80L227.69 427.00L217.40 427.00L217.40 434.80L207.11 434.80L207.11 423.90L196.82 423.90L196.82 433.80L186.53 433.80L186.53 429.10L176.24 429.10L176.24 435.90L165.95 435.90L165.95 427.80L155.66 427.80L155.66 432.80L145.37 432.80L145.37 428.60L135.08 428.60L135.08 427.80L124.79 427.80L124.79 432.50L114.50 432.50Z" fill="#afb885"/>
<path d="M114.50 400.20L402.62 400.20L402.62 408.80L392.33 408.80L392.33 432.80L382.04 432.80L382.04 417.70L371.75 417.70L371.75 415.00L361.46 415.00L361.46 427.80L351.17 427.80L351.17 429.10L340.88 429.10L340.88 408.30L330.59 408.30L330.59 417.70L320.30 417.70L320.30 428.60L310.01 428.60L310.01 423.10L299.72 423.10L299.72 434.10L289.43 434.10L289.43 427.50L279.14 427.50L279.14 422.30L268.85 422.30L268.85 415.00L258.56 415.00L258.56 438.00L248.27 438.00L248.27 423.10L237.98 423.10L237.98 414.10L227.69 414.10L227.69 421.30L217.40 421.30L217.40 428.60L207.11 428.60L207.11 415.30L196.82 415.30L196.82 425.00L186.53 425.00L186.53 423.90L176.24 423.90L176.24 422.80L165.95 422.80L165.95 425.50L155.66 425.50L155.66 425.90L145.37 425.90L145.37 418.10L135.08 418.10L135.08 422.30L124.79 422.30L124.79 425.50L114.50 425.50Z" fill="#8fbd6a"/>
<rect x="114.4" y="400.2" width="288.32" height="69.30000000000001" fill="none" stroke="#111" stroke-width="1.1"/>
<line x1="405.0" y1="399.7" x2="405.0" y2="470.2" stroke="#111111" stroke-width="1.2" />
<line x1="405.0" y1="399.9" x2="408.0" y2="399.9" stroke="#111111" stroke-width="1.1" />
<text x="411.6" y="402.9" font-size="8.50" text-anchor="start" font-weight="normal" fill="#111111" >100</text>
<line x1="405.0" y1="413.95" x2="408.0" y2="413.95" stroke="#111111" stroke-width="1.1" />
<text x="411.6" y="416.95" font-size="8.50" text-anchor="start" font-weight="normal" fill="#111111" >80</text>
<line x1="405.0" y1="428.0" x2="408.0" y2="428.0" stroke="#111111" stroke-width="1.1" />
<text x="411.6" y="431.0" font-size="8.50" text-anchor="start" font-weight="normal" fill="#111111" >60</text>
<line x1="405.0" y1="442.04999999999995" x2="408.0" y2="442.04999999999995" stroke="#111111" stroke-width="1.1" />
<text x="411.6" y="445.04999999999995" font-size="8.50" text-anchor="start" font-weight="normal" fill="#111111" >40</text>
<line x1="405.0" y1="456.09999999999997" x2="408.0" y2="456.09999999999997" stroke="#111111" stroke-width="1.1" />
<text x="411.6" y="459.09999999999997" font-size="8.50" text-anchor="start" font-weight="normal" fill="#111111" >20</text>
<line x1="405.0" y1="470.15" x2="408.0" y2="470.15" stroke="#111111" stroke-width="1.1" />
<text x="411.6" y="473.15" font-size="8.50" text-anchor="start" font-weight="normal" fill="#111111" >0</text>
<text x="424.8" y="437.5" font-size="8.50" text-anchor="start" font-weight="normal" fill="#111111" >%</text>
<text transform="translate(122.645,473.6) rotate(-90)" font-size="8.4" text-anchor="end" fill="#111111" >JB-0157</text>
<text transform="translate(132.935,473.6) rotate(-90)" font-size="8.4" text-anchor="end" fill="#111111" >JB-0062</text>
<text transform="translate(143.225,473.6) rotate(-90)" font-size="8.4" text-anchor="end" fill="#111111" >JB-0061</text>
<text transform="translate(153.51500000000001,473.6) rotate(-90)" font-size="8.4" text-anchor="end" fill="#111111" >JB-0054</text>
<text transform="translate(163.805,473.6) rotate(-90)" font-size="8.4" text-anchor="end" fill="#111111" >JB-0065</text>
<text transform="translate(174.095,473.6) rotate(-90)" font-size="8.4" text-anchor="end" fill="#111111" >JB-0060</text>
<text transform="translate(184.38500000000002,473.6) rotate(-90)" font-size="8.4" text-anchor="end" fill="#111111" >JB-0071</text>
<text transform="translate(194.675,473.6) rotate(-90)" font-size="8.4" text-anchor="end" fill="#111111" >JB-0063</text>
<text transform="translate(204.965,473.6) rotate(-90)" font-size="8.4" text-anchor="end" fill="#111111" >JB-0155</text>
<text transform="translate(215.255,473.6) rotate(-90)" font-size="8.4" text-anchor="end" fill="#111111" >JB-0158</text>
<text transform="translate(225.545,473.6) rotate(-90)" font-size="8.4" text-anchor="end" fill="#111111" >JB-0171</text>
<text transform="translate(235.835,473.6) rotate(-90)" font-size="8.4" text-anchor="end" fill="#111111" >JB-0059</text>
<text transform="translate(246.125,473.6) rotate(-90)" font-size="8.4" text-anchor="end" fill="#111111" >JB-0057</text>
<text transform="translate(256.41499999999996,473.6) rotate(-90)" font-size="8.4" text-anchor="end" fill="#111111" >JB-0156</text>
<text transform="translate(266.705,473.6) rotate(-90)" font-size="8.4" text-anchor="end" fill="#111111" >JB-0067</text>
<text transform="translate(276.995,473.6) rotate(-90)" font-size="8.4" text-anchor="end" fill="#111111" >JB-0163</text>
<text transform="translate(287.28499999999997,473.6) rotate(-90)" font-size="8.4" text-anchor="end" fill="#111111" >JB-0056</text>
<text transform="translate(297.57499999999993,473.6) rotate(-90)" font-size="8.4" text-anchor="end" fill="#111111" >JB-0068</text>
<text transform="translate(307.86499999999995,473.6) rotate(-90)" font-size="8.4" text-anchor="end" fill="#111111" >JB-0053</text>
<text transform="translate(318.155,473.6) rotate(-90)" font-size="8.4" text-anchor="end" fill="#111111" >JB-0055</text>
<text transform="translate(328.44499999999994,473.6) rotate(-90)" font-size="8.4" text-anchor="end" fill="#111111" >JB-0170</text>
<text transform="translate(338.73499999999996,473.6) rotate(-90)" font-size="8.4" text-anchor="end" fill="#111111" >JB-0058</text>
<text transform="translate(349.025,473.6) rotate(-90)" font-size="8.4" text-anchor="end" fill="#111111" >JB-0160</text>
<text transform="translate(359.31499999999994,473.6) rotate(-90)" font-size="8.4" text-anchor="end" fill="#111111" >JB-0162</text>
<text transform="translate(369.60499999999996,473.6) rotate(-90)" font-size="8.4" text-anchor="end" fill="#111111" >JB-0064</text>
<text transform="translate(379.895,473.6) rotate(-90)" font-size="8.4" text-anchor="end" fill="#111111" >JB-0070</text>
<text transform="translate(390.18499999999995,473.6) rotate(-90)" font-size="8.4" text-anchor="end" fill="#111111" >JB-0161</text>
<text transform="translate(400.47499999999997,473.6) rotate(-90)" font-size="8.4" text-anchor="end" fill="#111111" >JB-0069</text>
<rect x="37.40" y="438.40" width="3.50" height="3.50" fill="#6aaa4a" />
<text x="44.8" y="443.09999999999997" font-size="8.96" text-anchor="start" font-weight="normal" fill="#111111"  textLength="28.90" lengthAdjust="spacingAndGlyphs">transver</text>
<rect x="37.40" y="450.12" width="3.50" height="3.50" fill="#9fb276" />
<text x="44.8" y="454.82" font-size="8.96" text-anchor="start" font-weight="normal" fill="#111111"  textLength="18.89" lengthAdjust="spacingAndGlyphs">A-&gt;G</text>
<rect x="37.40" y="461.84" width="3.50" height="3.50" fill="#f5d98a" />
<text x="44.8" y="466.53999999999996" font-size="8.96" text-anchor="start" font-weight="normal" fill="#111111"  textLength="54.93" lengthAdjust="spacingAndGlyphs">*Cp(A/C/T)-&gt;T</text>
<rect x="37.40" y="473.56" width="3.50" height="3.50" fill="#efc03e" />
<text x="44.8" y="478.26" font-size="8.96" text-anchor="start" font-weight="normal" fill="#111111"  textLength="54.45" lengthAdjust="spacingAndGlyphs">(C/T)p*CpG-&gt;T</text>
<rect x="37.40" y="485.28" width="3.50" height="3.50" fill="#c0504a" />
<text x="44.8" y="489.97999999999996" font-size="8.96" text-anchor="start" font-weight="normal" fill="#111111"  textLength="55.34" lengthAdjust="spacingAndGlyphs">(A/G)p*CpG-&gt;T</text>
<rect x="0.5" y="0.5" width="519" height="511" fill="none" stroke="#000" stroke-width="1"/>
</svg></body></html>
